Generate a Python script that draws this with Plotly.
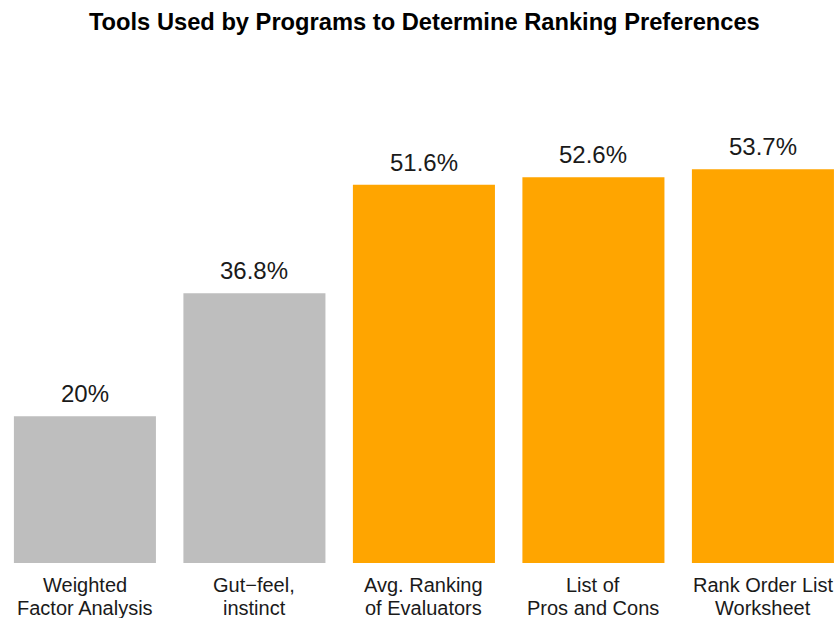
import plotly.graph_objects as go

categories = ["Weighted<br>Factor Analysis", "Gut\u2212feel,<br>instinct", "Avg. Ranking<br>of Evaluators",
              "List of<br>Pros and Cons", "Rank Order List<br>Worksheet"]
values = [20, 36.8, 51.6, 52.6, 53.7]
labels = ["20%", "36.8%", "51.6%", "52.6%", "53.7%"]
colors = ["#BEBEBE", "#BEBEBE", "#FFA500", "#FFA500", "#FFA500"]

FONT = "Liberation Sans, Arial"

fig = go.Figure()
fig.add_trace(go.Bar(x=categories, y=values, marker=dict(color=colors, line=dict(width=0)),
                     width=0.838, hoverinfo="skip"))
for c, v, t in zip(categories, values, labels):
    fig.add_annotation(x=c, y=v, text=t, showarrow=False, yanchor="bottom", yshift=7,
                       font=dict(size=24, color="#1a1a1a", family=FONT))
    # category label, two lines with tighter line spacing than Plotly's default
    for i, line in enumerate(c.split("<br>")):
        fig.add_annotation(x=c, y=0, text=line, showarrow=False, yanchor="top",
                           yshift=-9 - 23 * i,
                           font=dict(size=20, color="#1a1a1a", family=FONT))

fig.update_layout(
    width=837, height=618,
    margin=dict(l=0, r=0, t=60, b=55),
    paper_bgcolor="white", plot_bgcolor="white",
    showlegend=False,
    title=dict(text="<b>Tools Used by Programs to Determine Ranking Preferences</b>",
               x=0.507, xanchor="center", y=1 - 22 / 618, yanchor="middle",
               font=dict(size=23.7, color="black", family=FONT)),
    xaxis=dict(range=[-0.501, 4.437], showgrid=False, zeroline=False, showline=False,
               ticks="", showticklabels=False, automargin=False),
    yaxis=dict(range=[0, 68.6], visible=False, showgrid=False, zeroline=False, automargin=False),
)
fig.write_html("out.html", config={"displayModeBar": False},
               post_script="document.body.style.margin='0';")
